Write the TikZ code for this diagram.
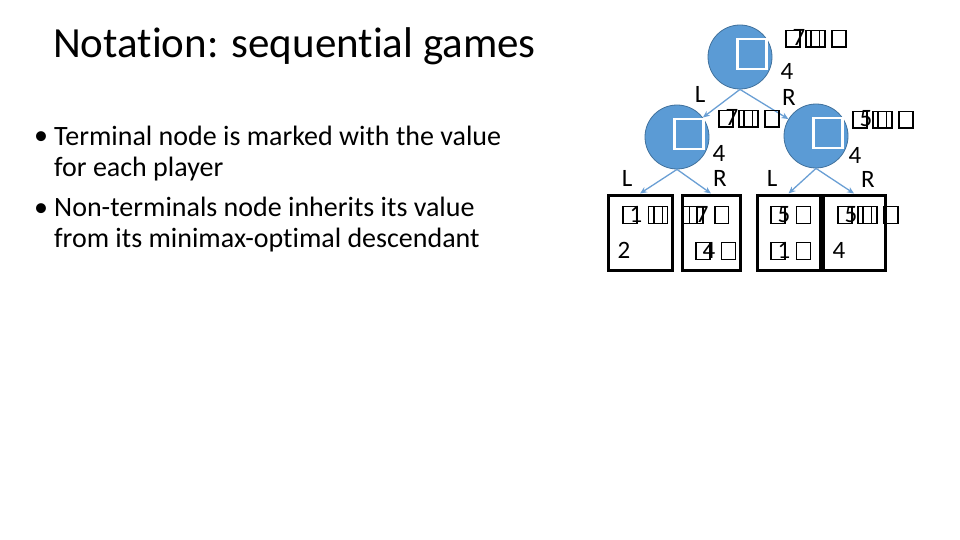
\documentclass[tikz,border=0pt]{standalone}
\usepackage{fontspec}
\setmainfont{Carlito}[Ligatures=NoCommon]
\usetikzlibrary{arrows.meta}

\definecolor{nodeblue}{HTML}{5B9BD5}
\definecolor{nodeline}{HTML}{41719C}
\definecolor{edgeblue}{HTML}{6A9FD4}
% empty glyph box, as the slide prints a missing character
\newcommand{\tofu}{{\setlength{\fboxsep}{0pt}\setlength{\fboxrule}{1.4pt}%
    \raisebox{-0.5pt}{\fbox{\rule{0pt}{15.5pt}\hspace{12.5pt}}}}}

\begin{document}
\begin{tikzpicture}[x=1pt, y=-1pt,
    decision/.style={circle, fill=nodeblue, draw=nodeline, line width=0.8pt,
        minimum size=64pt, inner sep=0pt},
    glyph/.style={draw=white, fill=nodeblue, line width=2.5pt,
        minimum width=29pt, minimum height=30pt, inner sep=0pt},
    leaf/.style={draw=black, line width=3pt, minimum height=75pt, inner sep=0pt},
    move/.style={draw=edgeblue, line width=1.3pt, -{Stealth[length=7pt, width=6pt]}},
    lbl/.style={font=\fontsize{25}{25}\selectfont, inner sep=0pt, anchor=base},
    val/.style={lbl, anchor=base west},
    bullet/.style={anchor=base west, inner sep=0pt, align=left,
        font=\fontsize{28}{31}\selectfont}]
    \useasboundingbox (0,0) rectangle (960,540);

    % title and bullets
    \node[anchor=base west, inner sep=0pt, font=\fontsize{43}{43}\selectfont] (title) at (53,58)
        {Notation: sequential games};
    \node[bullet] (b1) at (54,176)
        {Terminal node is marked with the value\\for each player};
    \node[bullet] (b2) at (54,247)
        {Non-terminals node inherits its value\\from its minimax-optimal descendant};
    \foreach \y in {145,216} {
        \node[lbl, font=\fontsize{28}{28}\selectfont] at (41,\y) {•};
    }

    % game tree
    \node[decision] (root) at (740,57) {};
    \node[decision] (lc) at (677,137) {};
    \node[decision] (rc) at (816,136) {};
    \foreach \n in {root,lc,rc} {
        \node[glyph] at ([shift={(12,-3)}]\n.center) {};
    }
    \node[leaf, minimum width=64pt] (t1) at (640,232.5) {};
    \node[leaf, minimum width=58pt] (t2) at (711,232.5) {};
    \node[leaf, minimum width=63pt] (t3) at (788.5,232.5) {};
    \node[leaf, minimum width=62pt] (t4) at (854,232.5) {};

    \draw[move] (root.south) -- (lc);
    \draw[move] (root.south) -- (rc);
    \draw[move] (lc.south) -- (t1.north);
    \draw[move] (lc.south) -- (t2.north);
    \draw[move] (rc.south) -- (t3.north);
    \draw[move] (rc.south) -- (t4.north);

    % moves and values
    \foreach \x/\y/\l in {700/103/L, 789/106/R, 787/80/4,
                          627/186/L, 720/186/R, 719/162/4,
                          772/186/L, 868/187/R, 855/164/4,
                          624/258/2, 839/258/4} {
        \node[lbl] at (\x,\y) {\l};
    }
    \node[val] at (785,46) {\tofu\kern-8pt7\tofu\kern-10pt\tofu\ \tofu};
    \node[val] at (718,126) {\tofu\kern-8pt7\tofu\kern-10pt\tofu\ \tofu};
    \node[val] at (852,127) {\tofu\kern-8pt5\tofu\kern-10pt\tofu\ \tofu};
    \node[val] at (622,222) {\tofu\kern-8pt1\ \tofu\kern-10pt\tofu};
    \node[val] at (682,222) {\tofu\kern-9pt\tofu\kern-8pt7\ \tofu};
    \node[val] at (695,258) {\tofu\kern-8pt4\ \tofu};
    \node[val] at (770,222) {\tofu\kern-8pt5\ \tofu};
    \node[val] at (770,258) {\tofu\kern-8pt1\ \tofu};
    \node[val] at (837,222) {\tofu\kern-8pt5\tofu\kern-10pt\tofu\ \tofu};
\end{tikzpicture}
\end{document}
